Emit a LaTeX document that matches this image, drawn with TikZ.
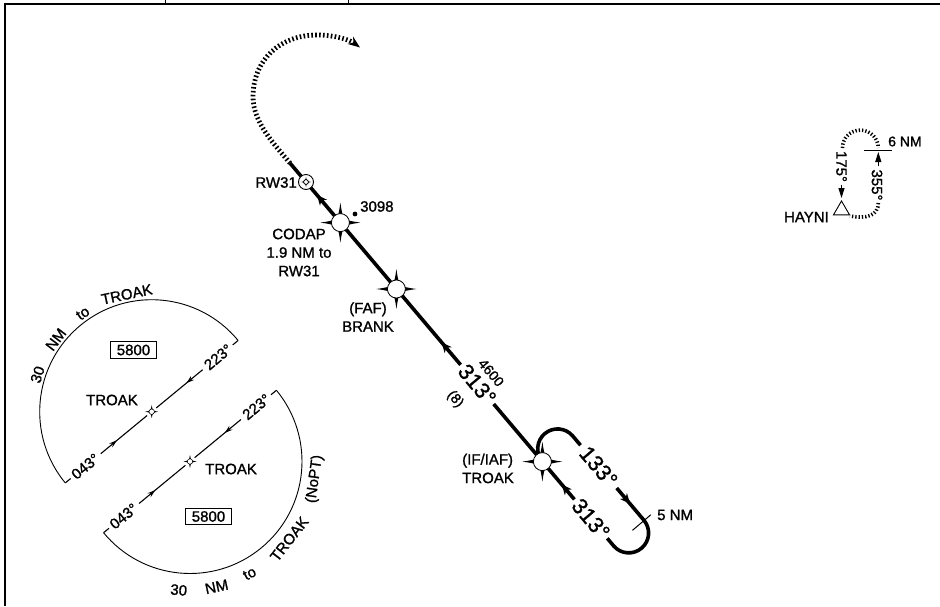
\documentclass[tikz,border=0pt]{standalone}
\usepackage{fontspec}
\setmainfont{Liberation Sans}[FakeBold=1.2]
\usetikzlibrary{arrows.meta,calc,decorations.markings,shapes.geometric}

\tikzset{
  frameline/.style={line width=2.2pt},
  course/.style={line width=3.6pt},
  thinline/.style={line width=0.9pt},
  radial/.style={line width=1.1pt},
  dotline/.style={line width=4.8pt, dash pattern=on 1.6pt off 2.3pt},
  smalldot/.style={line width=3.6pt, dash pattern=on 1.3pt off 2pt},
  lbl/.style={font=\fontsize{15}{18.5}\selectfont, inner sep=0pt, align=center},
  smlbl/.style={font=\fontsize{14}{15}\selectfont, inner sep=0pt},
  biglbl/.style={font=\fontsize{22}{24}\selectfont, inner sep=0pt},
  altbox/.style={lbl, draw, line width=0.8pt, inner xsep=6.5pt, inner ysep=3pt},
  midarrow/.style={postaction={decorate, decoration={markings,
      mark=at position #1 with {\arrow{Stealth[length=10pt,width=9pt,inset=3pt]}}}}},
  radarrow/.style={postaction={decorate, decoration={markings,
      mark=at position #1 with {\arrow{Stealth[length=8pt,width=5pt]}}}}},
  fixstar/.pic={
    \fill (20,0) .. controls (2.5,-2.5) .. (0,-20) .. controls (-2.5,-2.5) .. (-20,0)
      .. controls (-2.5,2.5) .. (0,20) .. controls (2.5,2.5) .. cycle;
    \draw[fill=white, line width=0.8pt] (0,0) circle (9);
  },
  tinyfix/.pic={
    \fill (6.5,0) .. controls (1,-1) .. (0,-6.5) .. controls (-1,-1) .. (-6.5,0)
      .. controls (-1,1) .. (0,6.5) .. controls (1,1) .. cycle;
    \draw[fill=white, line width=0.5pt] (0,0) circle (2.7);
  },
}

\begin{document}
\begin{tikzpicture}[x=1pt,y=1pt,yscale=-1]
\useasboundingbox (0,0) rectangle (940,606);

% chart frame
\draw[frameline] (5,606) -- (5,3.7) -- (940,3.7);
\draw[line width=0.8pt] (165,0) -- (165,3.7) (348.5,0) -- (348.5,3.7);

% final approach course
\coordinate (dotstart) at (290.0,163.1);
\coordinate (rw) at (306,182);
\coordinate (codap) at (340.4,222.6);
\coordinate (faf) at (396.4,289.0);
\coordinate (seg1end) at (460.6,364.8);
\coordinate (seg2start) at (493.7,404.0);
\coordinate (iaf) at (542.4,461.6);
\coordinate (seg2end) at (574.4,499.4);
\draw[course, midarrow=0.111, midarrow=0.842] (seg1end) -- (dotstart);
\draw[course, midarrow=0.156] (seg2end) -- (seg2start);

% missed approach
\draw[dotline, -{Stealth[length=12pt,width=9pt]}] (dotstart)
  .. controls (273.9,143.9) and (253,122) .. (253,97)
  .. controls (253,60) and (280,35) .. (317,35)
  .. controls (335,35) and (350,40) .. (360,47.5);

% holding pattern at TROAK
\coordinate (hold1) at (580.5,445.2);
\coordinate (hold2) at (616.7,488.0);
\coordinate (hold3) at (607.3,538.3);
\draw[course] (iaf) arc[start angle=139.8, end angle=319.8, radius=19.85] -- (hold1);
\draw[course, midarrow=0.18] (hold2) -- (643.9,520.2)
  arc[start angle=-40.2, end angle=139.8, radius=19.85] -- (hold3);
\draw[line width=1pt] (632.5,530.3) -- (650.9,514.7);
\node[lbl, anchor=west] (nm5) at (657,515) {5 NM};

% course labels
\node[biglbl, rotate=-49.8] (crs1) at (477.2,384.5) {313°};
\node[smlbl, rotate=-49.8] (alt4600) at (491.2,372.7) {4600};
\node[smlbl, rotate=-49.8] (dist8) at (455.1,399.3) {(8)};
\node[biglbl, rotate=-49.8] (crs2) at (590.9,518.9) {313°};
\node[biglbl, rotate=-49.8] (crs3) at (598.6,466.6) {133°};

% fixes
\draw[fill=white, line width=0.9pt] (rw) circle (7.5);
\pic[scale=0.27] at (rw) {fixstar};
\pic at (codap) {fixstar};
\pic at (faf) {fixstar};
\pic at (iaf) {fixstar};
\fill (355,214) circle (2.4);
\node[lbl, anchor=east] (rwlbl) at (297,182.5) {RW31};
\node[lbl, anchor=west] (elev) at (360,206.5) {3098};
\node[lbl] (codaplbl) at (299,252.5) {CODAP\\1.9 NM to\\RW31};
\node[lbl] (faflbl) at (368,317) {(FAF)\\BRANK};
\node[lbl, align=left, anchor=west] (iaflbl) at (462,468.5) {(IF/IAF)\\TROAK};

% terminal arrival area, upper
\coordinate (taa1) at (151.7,411.7);
\draw[thinline] ($(taa1)+(-39.5:112)$) arc[start angle=-39.5, end angle=-219.5, radius=112];
\draw[radial, radarrow=0.35] ($(taa1)+(-39.5:66)$) -- ($(taa1)+(-39.5:6)$);
\draw[radial, radarrow=0.35] ($(taa1)+(140.5:66)$) -- ($(taa1)+(140.5:6)$);
\draw[radial] ($(taa1)+(-39.5:105)$) -- ($(taa1)+(-39.5:112)$);
\draw[radial] ($(taa1)+(140.5:105)$) -- ($(taa1)+(140.5:112)$);
\node[lbl, rotate=39.5] (rad1a) at ($(taa1)+(-39.5:86)$) {223°};
\node[lbl, rotate=39.5] (rad1b) at ($(taa1)+(140.5:86)$) {043°};
\pic at (taa1) {tinyfix};
\node[lbl, anchor=east] (taa1lbl) at (138,400) {TROAK};
\node[altbox] (alt1) at (133.5,350) {5800};
\node[lbl, rotate=72] (arc1a) at ($(taa1)+(-162:120)$) {30};
\node[lbl, rotate=53] (arc1b) at ($(taa1)+(-143:120)$) {NM};
\node[lbl, rotate=35] (arc1c) at ($(taa1)+(-125:120)$) {to};
\node[lbl, rotate=12] (arc1d) at ($(taa1)+(-102:120)$) {TROAK};

% terminal arrival area, lower
\coordinate (taa2) at (190,461.5);
\draw[thinline] ($(taa2)+(-39.5:112)$) arc[start angle=-39.5, end angle=140.5, radius=112];
\draw[radial, radarrow=0.35] ($(taa2)+(-39.5:66)$) -- ($(taa2)+(-39.5:6)$);
\draw[radial, radarrow=0.35] ($(taa2)+(140.5:66)$) -- ($(taa2)+(140.5:6)$);
\draw[radial] ($(taa2)+(-39.5:105)$) -- ($(taa2)+(-39.5:112)$);
\draw[radial] ($(taa2)+(140.5:105)$) -- ($(taa2)+(140.5:112)$);
\node[lbl, rotate=39.5] (rad2a) at ($(taa2)+(-39.5:86)$) {223°};
\node[lbl, rotate=39.5] (rad2b) at ($(taa2)+(140.5:86)$) {043°};
\pic at (taa2) {tinyfix};
\node[lbl, anchor=west] (taa2lbl) at (205,469) {TROAK};
\node[altbox] (alt2) at (208.5,516.5) {5800};
\node[lbl, rotate=-5] (arc2a) at ($(taa2)+(95:129)$) {30};
\node[lbl, rotate=12] (arc2b) at ($(taa2)+(78:128)$) {NM};
\node[lbl, rotate=28] (arc2c) at ($(taa2)+(62:127)$) {to};
\node[lbl, rotate=52] (arc2d) at ($(taa2)+(38:126)$) {TROAK};
\node[lbl, rotate=82] (arc2e) at ($(taa2)+(8:126)$) {(NoPT)};

% missed approach holding at HAYNI
\node[draw, line width=0.9pt, regular polygon, regular polygon sides=3,
  minimum size=18.5pt, inner sep=0pt] (hayni) at (841.5,210.2) {};
\node[lbl, anchor=east] (haynilbl) at (829,217) {HAYNI};
\draw[line width=1pt, -{Triangle[length=10pt,width=6pt]}, shorten >=2pt] (841.5,185) -- (hayni.north);
\node[lbl, rotate=-90] (h175) at (841.5,166.5) {175°};
\node[lbl, rotate=-90] (h355) at (877,185) {355°};
\draw[line width=1pt, -{Triangle[length=10pt,width=6pt]}] (878.3,166) -- (878.3,152);
\draw[line width=1pt] (864,150.7) -- (891.7,150.7);
\node[lbl, anchor=west, font=\fontsize{14}{16}\selectfont] (nm6) at (888,141.5) {6 NM};
\draw[smalldot] (842.5,148) arc[start angle=180, end angle=360, radius=17.9];
\draw[smalldot] (878.3,203) .. controls (878.3,216) and (866,219) .. (850,216);

\end{tikzpicture}
\end{document}
